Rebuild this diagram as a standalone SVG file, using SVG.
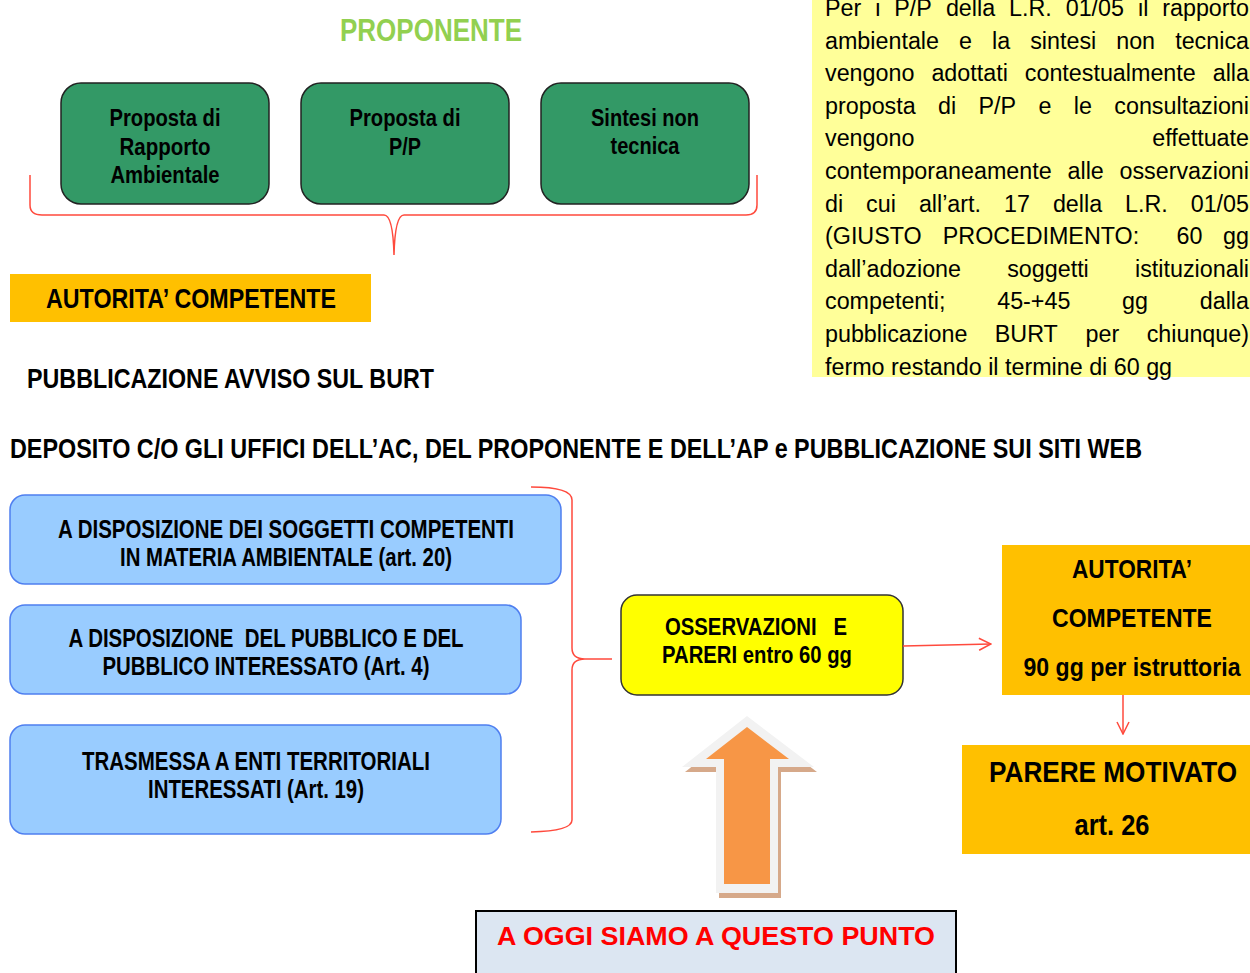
<svg xmlns="http://www.w3.org/2000/svg" width="1250" height="973" viewBox="0 0 1250 973">
<defs>
<style>
.nb{font-family:'Liberation Sans Narrow','Liberation Sans',Arial,sans-serif;font-weight:bold;fill:#000;white-space:pre}
.ab{font-family:'Liberation Sans',Arial,sans-serif;font-weight:bold}
.p{font-family:'Liberation Sans',Arial,sans-serif;font-size:23.3px;fill:#000}
.pe{text-anchor:end}
.c{text-anchor:middle}
.gbox{fill:#339966;stroke:#222;stroke-width:1.5}
.bbox{fill:#99CCFF;stroke:#4F7FF0;stroke-width:1.5}
.obox{fill:#FFC000}
.conn{fill:none;stroke:#FF4A3D;stroke-width:1.5}
</style>
<marker id="ah" viewBox="0 0 14 14" refX="13" refY="7" markerWidth="14" markerHeight="14" markerUnits="userSpaceOnUse" orient="auto">
<path d="M1,1 L13,7 L1,13" fill="none" stroke="#FF4A3D" stroke-width="1.5"/>
</marker>
</defs>
<rect width="1250" height="973" fill="#fff"/>

<g id="proponente-title">
<text class="nb c" x="431" y="41" font-size="31" style="fill:#92D050" textLength="182" lengthAdjust="spacingAndGlyphs">PROPONENTE</text>
</g>

<g id="node-rapporto">
<rect class="gbox" x="61" y="83" width="208" height="121" rx="20"/>
<text class="nb c" x="165" y="126" font-size="23.5" textLength="111" lengthAdjust="spacingAndGlyphs">Proposta di</text>
<text class="nb c" x="165" y="155" font-size="23.5" textLength="91" lengthAdjust="spacingAndGlyphs">Rapporto</text>
<text class="nb c" x="165" y="183" font-size="23.5" textLength="109" lengthAdjust="spacingAndGlyphs">Ambientale</text>
</g>
<g id="node-pp">
<rect class="gbox" x="301" y="83" width="208" height="121" rx="20"/>
<text class="nb c" x="405" y="126" font-size="23.5" textLength="111" lengthAdjust="spacingAndGlyphs">Proposta di</text>
<text class="nb c" x="405" y="155" font-size="23.5" textLength="32" lengthAdjust="spacingAndGlyphs">P/P</text>
</g>
<g id="node-sintesi">
<rect class="gbox" x="541" y="83" width="208" height="121" rx="20"/>
<text class="nb c" x="645" y="126" font-size="23.5" textLength="108" lengthAdjust="spacingAndGlyphs">Sintesi non</text>
<text class="nb c" x="645" y="154" font-size="23.5" textLength="69" lengthAdjust="spacingAndGlyphs">tecnica</text>
</g>

<g id="note">
<rect x="812" y="0" width="438" height="377" fill="#FFFF99"/>
<text class="p" y="16"><tspan x="825">Per</tspan><tspan x="875.2">i</tspan><tspan x="894.3">P/P</tspan><tspan x="945.9">della</tspan><tspan x="1009">L.R.</tspan><tspan x="1065.7">01/05</tspan><tspan x="1138">il</tspan></text>
<text class="p pe" x="1249" y="16">rapporto</text>
<text class="p" y="48.6"><tspan x="825">ambientale</tspan><tspan x="959">e</tspan><tspan x="992">la</tspan><tspan x="1030.2">sintesi</tspan><tspan x="1116.2">non</tspan></text>
<text class="p pe" x="1249" y="48.6">tecnica</text>
<text class="p" y="81.2"><tspan x="825">vengono</tspan><tspan x="931.4">adottati</tspan><tspan x="1024.8">contestualmente</tspan></text>
<text class="p pe" x="1249" y="81.2">alla</text>
<text class="p" y="113.8"><tspan x="825">proposta</tspan><tspan x="938">di</tspan><tspan x="978.5">P/P</tspan><tspan x="1038.5">e</tspan><tspan x="1073.8">le</tspan></text>
<text class="p pe" x="1249" y="113.8">consultazioni</text>
<text class="p" x="825" y="146.4">vengono</text>
<text class="p pe" x="1249" y="146.4">effettuate</text>
<text class="p" y="179"><tspan x="825">contemporaneamente</tspan><tspan x="1067.5">alle</tspan></text>
<text class="p pe" x="1249" y="179">osservazioni</text>
<text class="p" y="211.6"><tspan x="825">di</tspan><tspan x="866.1">cui</tspan><tspan x="918.9">all’art.</tspan><tspan x="1004">17</tspan><tspan x="1052.9">della</tspan><tspan x="1125">L.R.</tspan></text>
<text class="p pe" x="1249" y="211.6">01/05</text>
<text class="p" y="244.2"><tspan x="825">(GIUSTO</tspan><tspan x="942.8">PROCEDIMENTO:</tspan><tspan x="1176.5">60</tspan></text>
<text class="p pe" x="1249" y="244.2">gg</text>
<text class="p" y="276.8"><tspan x="825">dall’adozione</tspan><tspan x="1007.2">soggetti</tspan></text>
<text class="p pe" x="1249" y="276.8">istituzionali</text>
<text class="p" y="309.4"><tspan x="825">competenti;</tspan><tspan x="997.2">45-+45</tspan><tspan x="1122.1">gg</tspan></text>
<text class="p pe" x="1249" y="309.4">dalla</text>
<text class="p" y="342"><tspan x="825">pubblicazione</tspan><tspan x="994.8">BURT</tspan><tspan x="1085.6">per</tspan></text>
<text class="p pe" x="1249" y="342">chiunque)</text>
<text class="p" x="825" y="374.6">fermo restando il termine di 60 gg</text>
</g>

<g id="node-autorita-top">
<rect class="obox" x="10" y="274" width="361" height="48"/>
<text class="nb" x="46" y="308" font-size="28" textLength="290" lengthAdjust="spacingAndGlyphs">AUTORITA’ COMPETENTE</text>
</g>

<g id="pubblicazione">
<text class="nb" x="27" y="388" font-size="28" textLength="407" lengthAdjust="spacingAndGlyphs">PUBBLICAZIONE AVVISO SUL BURT</text>
</g>
<g id="deposito">
<text class="nb" x="10" y="458" font-size="28" textLength="1132" lengthAdjust="spacingAndGlyphs">DEPOSITO C/O GLI UFFICI DELL’AC, DEL PROPONENTE E DELL’AP e PUBBLICAZIONE SUI SITI WEB</text>
</g>

<g id="node-soggetti">
<rect class="bbox" x="10" y="495" width="551" height="89" rx="15"/>
<text class="nb c" x="286" y="538" font-size="25" textLength="456" lengthAdjust="spacingAndGlyphs">A DISPOSIZIONE DEI SOGGETTI COMPETENTI</text>
<text class="nb c" x="286" y="566" font-size="25" textLength="332" lengthAdjust="spacingAndGlyphs">IN MATERIA AMBIENTALE (art. 20)</text>
</g>
<g id="node-pubblico">
<rect class="bbox" x="10" y="605" width="511" height="89" rx="15"/>
<text class="nb c" x="266" y="647" font-size="25" textLength="395" lengthAdjust="spacingAndGlyphs">A DISPOSIZIONE  DEL PUBBLICO E DEL</text>
<text class="nb c" x="266" y="675" font-size="25" textLength="327" lengthAdjust="spacingAndGlyphs">PUBBLICO INTERESSATO (Art. 4)</text>
</g>
<g id="node-enti">
<rect class="bbox" x="10" y="725" width="491" height="109" rx="15"/>
<text class="nb c" x="256" y="770" font-size="25" textLength="348" lengthAdjust="spacingAndGlyphs">TRASMESSA A ENTI TERRITORIALI</text>
<text class="nb c" x="256" y="798" font-size="25" textLength="216" lengthAdjust="spacingAndGlyphs">INTERESSATI (Art. 19)</text>
</g>

<g id="node-osservazioni">
<rect x="621" y="595" width="282" height="100" rx="16" fill="#FFFF00" stroke="#333" stroke-width="1.5"/>
<text class="nb" x="665" y="635" font-size="23.5" textLength="182" lengthAdjust="spacingAndGlyphs">OSSERVAZIONI   E</text>
<text class="nb" x="662" y="663" font-size="23.5" textLength="190" lengthAdjust="spacingAndGlyphs">PARERI entro 60 gg</text>
</g>

<g id="node-autorita-right">
<rect class="obox" x="1002" y="545" width="248" height="150"/>
<text class="nb c" x="1132" y="578" font-size="26" textLength="120" lengthAdjust="spacingAndGlyphs">AUTORITA’</text>
<text class="nb c" x="1132" y="627" font-size="26" textLength="160" lengthAdjust="spacingAndGlyphs">COMPETENTE</text>
<text class="nb c" x="1132" y="676" font-size="26" textLength="217" lengthAdjust="spacingAndGlyphs">90 gg per istruttoria</text>
</g>

<g id="node-parere">
<rect class="obox" x="962" y="745" width="288" height="109"/>
<text class="nb c" x="1113" y="782" font-size="30" textLength="248" lengthAdjust="spacingAndGlyphs">PARERE MOTIVATO</text>
<text class="nb c" x="1112" y="835" font-size="30" textLength="75" lengthAdjust="spacingAndGlyphs">art. 26</text>
</g>

<g id="big-arrow">
<polygon points="750,721 817,772 781,772 781,898 719,898 719,772 685,772" fill="#D6A98A"/>
<polygon points="747,716 814,767 778,767 778,893 716,893 716,767 682,767" fill="#F2F2F2"/>
<polygon points="747,727 789,759 770,759 770,884 724,884 724,759 706,759" fill="#F79646"/>
</g>

<g id="node-oggi">
<rect x="476" y="911" width="480" height="70" fill="#DCE6F2" stroke="#000" stroke-width="2"/>
<text class="ab c" x="716" y="945" font-size="26" fill="#FF0000" textLength="438" lengthAdjust="spacingAndGlyphs">A OGGI SIAMO A QUESTO PUNTO</text>
</g>

<g id="connectors">
<path class="conn" d="M30,175 L30,205 Q30,215 42,215 L384,215 Q393,215 394,255 Q395,215 404,215 L746,215 Q757,215 757,205 L757,175"/>
<path class="conn" d="M531,487 Q572,487 572,500 L572,648 Q572,659 585,659 L612,659 M585,659 Q572,659 572,670 L572,820 Q572,831 531,832"/>
<path class="conn" d="M903,646 L991,644" marker-end="url(#ah)"/>
<path class="conn" d="M1123,695 L1123,734" marker-end="url(#ah)"/>
</g>
</svg>
